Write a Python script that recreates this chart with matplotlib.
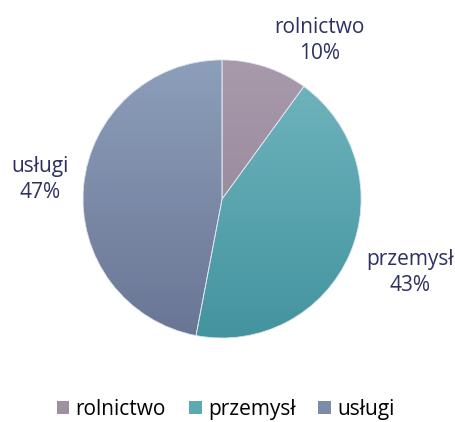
import numpy as np
import matplotlib
matplotlib.use("Agg")
import matplotlib.pyplot as plt
from matplotlib.patches import Patch
from matplotlib.colors import to_rgb

# data
labels = ['rolnictwo', 'przemysł', 'usługi']
values = [10, 43, 47]
# (top colour, bottom colour) for the vertical gradient
top_colors = ['#a89aab', '#72b6bf', '#8c9fbb']
bottom_colors = ['#8e7e92', '#43949f', '#6a7594']
mid_colors = ['#9e8fa3', '#5aa9b3', '#7c8aab']
label_pos = [(0.70, 1.14), (1.35, -0.53), (-1.31, 0.14)]
text_color = '#2e3160'

plt.rcParams['font.family'] = ['Open Sans', 'DejaVu Sans']

fig = plt.figure(figsize=(4.56, 4.22), dpi=100)
ax = fig.add_axes([0.182, 0.199, 0.610, 0.659])
ax.axis('off')

wedges, _ = ax.pie(values, startangle=90, counterclock=False, radius=1,
                   colors=mid_colors,
                   wedgeprops=dict(edgecolor='#dde3ea', linewidth=0.6))

# paint a vertical gradient inside every wedge
t = np.linspace(0, 1, 256)[:, None]
for w, c1, c2 in zip(wedges, top_colors, bottom_colors):
    a = np.array(to_rgb(c1))
    b = np.array(to_rgb(c2))
    img = a[None, None, :] * (1 - t[:, :, None]) + b[None, None, :] * t[:, :, None]
    img = np.repeat(img, 2, axis=1)
    im = ax.imshow(img, extent=[-1, 1, -1, 1], origin='upper', aspect='auto', zorder=1.5)
    im.set_clip_path(w)
    w.set_facecolor('none')
    w.set_zorder(2)

ax.set_xlim(-1, 1)
ax.set_ylim(-1, 1)
ax.set_aspect('equal')

for lab, v, (x, y) in zip(labels, values, label_pos):
    ax.text(x, y, '%s\n%d%%' % (lab, v), ha='center', va='center', fontsize=15,
            color=text_color, linespacing=1.3, clip_on=False)

handles = [Patch(facecolor=c, edgecolor='none') for c in mid_colors]
fig.legend(handles, labels, loc='center', bbox_to_anchor=(0.495, 0.03), ncol=3,
           frameon=False, fontsize=15, handlelength=0.6, handleheight=0.6,
           handletextpad=0.3, columnspacing=1.1)

fig.savefig('out.png', dpi=100)
